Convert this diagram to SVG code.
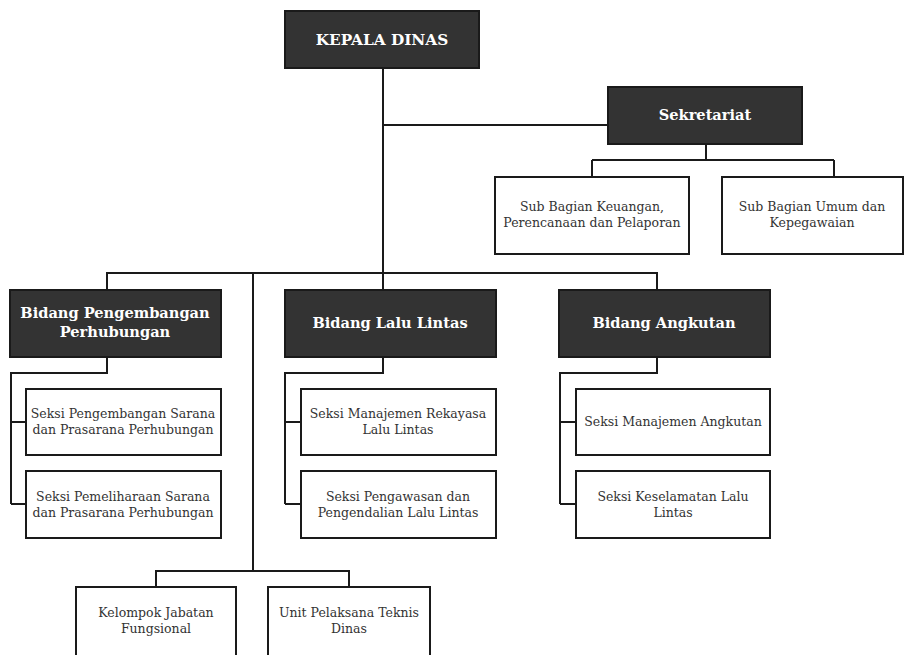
<svg xmlns="http://www.w3.org/2000/svg" width="906" height="655" viewBox="0 0 906 655">
<style>
.dark{fill:#333333;stroke:#1a1a1a;stroke-width:2}
.light{fill:#ffffff;stroke:#1a1a1a;stroke-width:2}
.h{font-family:"DejaVu Serif","Liberation Serif",serif;font-weight:bold;font-size:14.6px;fill:#ffffff;text-anchor:middle}
.t{font-family:"DejaVu Serif","Liberation Serif",serif;font-size:12.5px;fill:#333333;text-anchor:middle}
.c{fill:none;stroke:#1a1a1a;stroke-width:2}
</style>
<rect width="906" height="655" fill="#ffffff"/>
<g id="connectors">
<path class="c" d="M383 68 V273"/>
<path class="c" d="M383 125 H608"/>
<path class="c" d="M706 144 V160 M592 160 H834 M592 160 V177 M834 160 V177"/>
<path class="c" d="M107 290 V273 H657 V290 M383 273 V290"/>
<path class="c" d="M253 273 V571 M156 587 V571 H349 V587"/>
<path class="c" d="M107 357 V373 H11 V504 M11 422 H26 M11 504 H26"/>
<path class="c" d="M383 357 V373 H285 V504 M285 422 H301 M285 504 H301"/>
<path class="c" d="M657 357 V373 H560 V504 M560 422 H576 M560 504 H576"/>
</g>
<g id="kepala">
<rect class="dark" x="285" y="11" width="194" height="57"/>
<text class="h" x="382" y="45" style="font-size:15.3px">KEPALA DINAS</text>
</g>
<g id="sekretariat">
<rect class="dark" x="608" y="87" width="194" height="57"/>
<text class="h" x="705" y="120">Sekretariat</text>
</g>
<g id="subbag-keuangan">
<rect class="light" x="495" y="177" width="194" height="77"/>
<text class="t" x="592" y="211">Sub Bagian Keuangan,</text>
<text class="t" x="592" y="227">Perencanaan dan Pelaporan</text>
</g>
<g id="subbag-umum">
<rect class="light" x="722" y="177" width="181" height="77"/>
<text class="t" x="812" y="211">Sub Bagian Umum dan</text>
<text class="t" x="812" y="227">Kepegawaian</text>
</g>
<g id="bidang-pengembangan">
<rect class="dark" x="10" y="290" width="211" height="67"/>
<text class="h" x="115" y="318">Bidang Pengembangan</text>
<text class="h" x="115" y="337">Perhubungan</text>
</g>
<g id="bidang-lalulintas">
<rect class="dark" x="285" y="290" width="211" height="67"/>
<text class="h" x="390" y="328">Bidang Lalu Lintas</text>
</g>
<g id="bidang-angkutan">
<rect class="dark" x="559" y="290" width="211" height="67"/>
<text class="h" x="664" y="328">Bidang Angkutan</text>
</g>
<g id="seksi-pengembangan">
<rect class="light" x="26" y="389" width="195" height="66"/>
<text class="t" x="123" y="418">Seksi Pengembangan Sarana</text>
<text class="t" x="123" y="434">dan Prasarana Perhubungan</text>
</g>
<g id="seksi-pemeliharaan">
<rect class="light" x="26" y="471" width="195" height="67"/>
<text class="t" x="123" y="501">Seksi Pemeliharaan Sarana</text>
<text class="t" x="123" y="517">dan Prasarana Perhubungan</text>
</g>
<g id="seksi-rekayasa">
<rect class="light" x="301" y="389" width="195" height="66"/>
<text class="t" x="398" y="418">Seksi Manajemen Rekayasa</text>
<text class="t" x="398" y="434">Lalu Lintas</text>
</g>
<g id="seksi-pengawasan">
<rect class="light" x="301" y="471" width="195" height="67"/>
<text class="t" x="398" y="501">Seksi Pengawasan dan</text>
<text class="t" x="398" y="517">Pengendalian Lalu Lintas</text>
</g>
<g id="seksi-angkutan">
<rect class="light" x="576" y="389" width="194" height="66"/>
<text class="t" x="673" y="426">Seksi Manajemen Angkutan</text>
</g>
<g id="seksi-keselamatan">
<rect class="light" x="576" y="471" width="194" height="67"/>
<text class="t" x="673" y="501">Seksi Keselamatan Lalu</text>
<text class="t" x="673" y="517">Lintas</text>
</g>
<g id="kelompok-jabatan">
<rect class="light" x="76" y="587" width="160" height="80"/>
<text class="t" x="156" y="617">Kelompok Jabatan</text>
<text class="t" x="156" y="633">Fungsional</text>
</g>
<g id="upt-dinas">
<rect class="light" x="268" y="587" width="162" height="80"/>
<text class="t" x="349" y="617">Unit Pelaksana Teknis</text>
<text class="t" x="349" y="633">Dinas</text>
</g>
</svg>
